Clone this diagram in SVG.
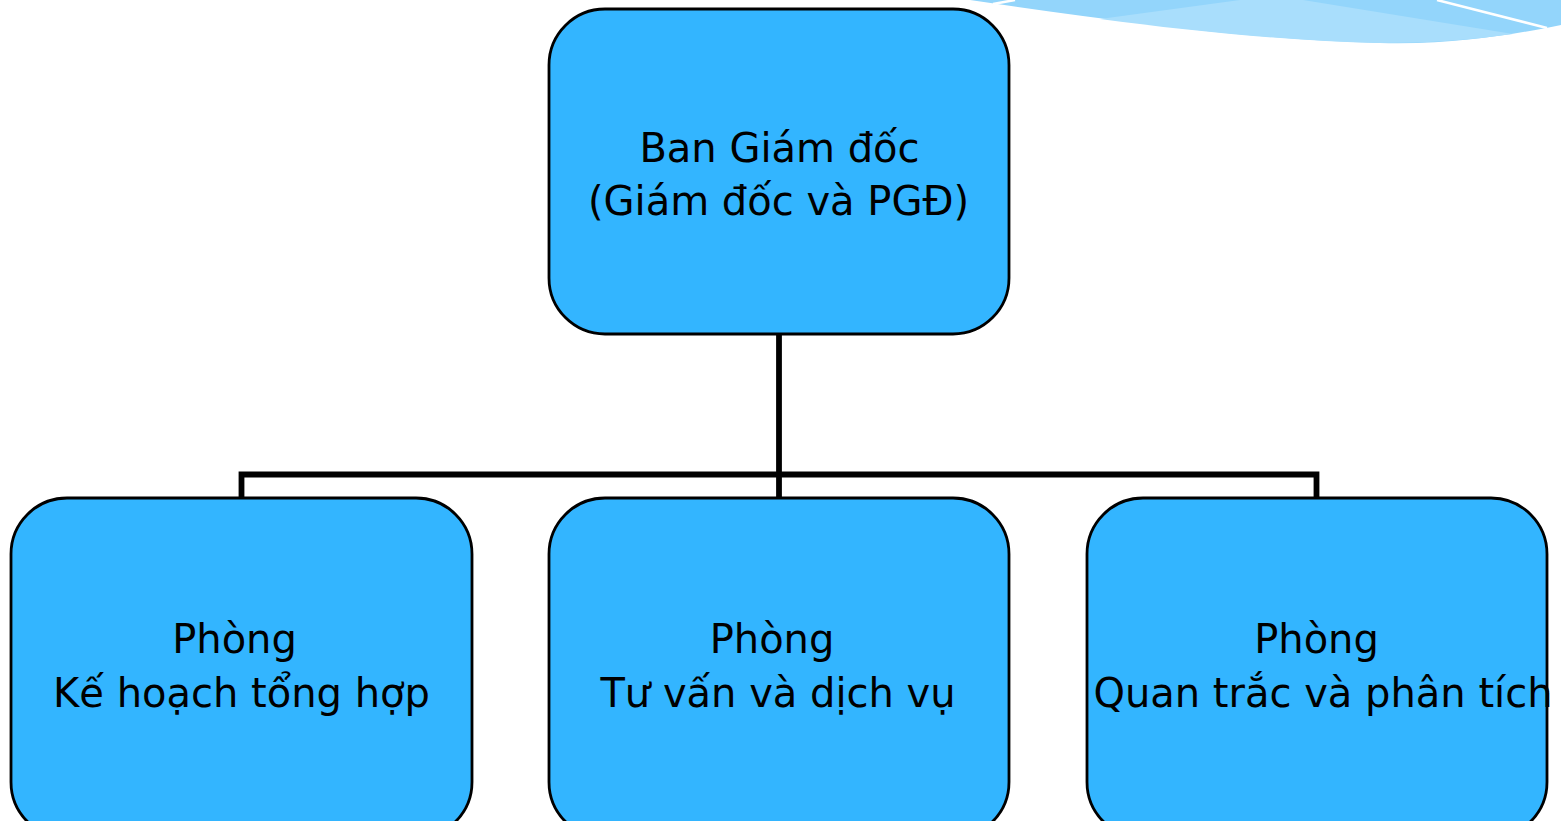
<svg xmlns="http://www.w3.org/2000/svg" width="1561" height="821" viewBox="0 0 1561 821">
  <style>
    .box { fill: #33B5FF; stroke: #000; stroke-width: 2.8; }
    .lbl { font-family: "DejaVu Sans", Verdana, sans-serif; font-size: 40px; fill: #000; text-anchor: middle; }
    .conn { fill: none; stroke: #000; stroke-width: 5.8; stroke-linejoin: miter; }
  </style>
  <rect width="1561" height="821" fill="#fff"/>
  <g id="swoosh">
    <path d="M970 0 L1561 0 L1561 25 C1520 33 1460 45 1380 43 C1260 40 1120 22 970 0 Z" fill="#93D5FB"/>
    <path d="M1100 19 L1240 0 L1303 0 L1513 34 C1470 40 1430 43 1380 43 C1290 41 1190 31 1100 19 Z" fill="#A9DEFC"/>
    <path d="M1437 0 L1547 28" stroke="#fff" stroke-width="2.5" fill="none"/>
    <path d="M993 4 L1015 0" stroke="#fff" stroke-width="2.5" fill="none"/>
  </g>
  <g id="connectors">
    <path class="conn" d="M779 334 V474.5"/>
    <path class="conn" d="M241.5 497 V474.5 H1316.5 V497"/>
    <path class="conn" d="M779 474.5 V497"/>
  </g>
  <g id="n-director">
    <rect class="box" x="549" y="9" width="460" height="325" rx="56" ry="56"/>
    <text class="lbl" x="779.5" y="162">Ban Giám đốc</text>
    <text class="lbl" x="778.5" y="215">(Giám đốc và PGĐ)</text>
  </g>
  <g id="n-planning">
    <rect class="box" x="11" y="498" width="461" height="340" rx="56" ry="56"/>
    <text class="lbl" x="234.5" y="653">Phòng</text>
    <text class="lbl" x="241.5" y="707">Kế hoạch tổng hợp</text>
  </g>
  <g id="n-consulting">
    <rect class="box" x="549" y="498" width="460" height="340" rx="56" ry="56"/>
    <text class="lbl" x="772" y="653">Phòng</text>
    <text class="lbl" x="778" y="707">Tư vấn và dịch vụ</text>
  </g>
  <g id="n-monitoring">
    <rect class="box" x="1087" y="498" width="460" height="340" rx="56" ry="56"/>
    <text class="lbl" x="1316.5" y="653">Phòng</text>
    <text class="lbl" x="1323" y="707">Quan trắc và phân tích</text>
  </g>
</svg>
